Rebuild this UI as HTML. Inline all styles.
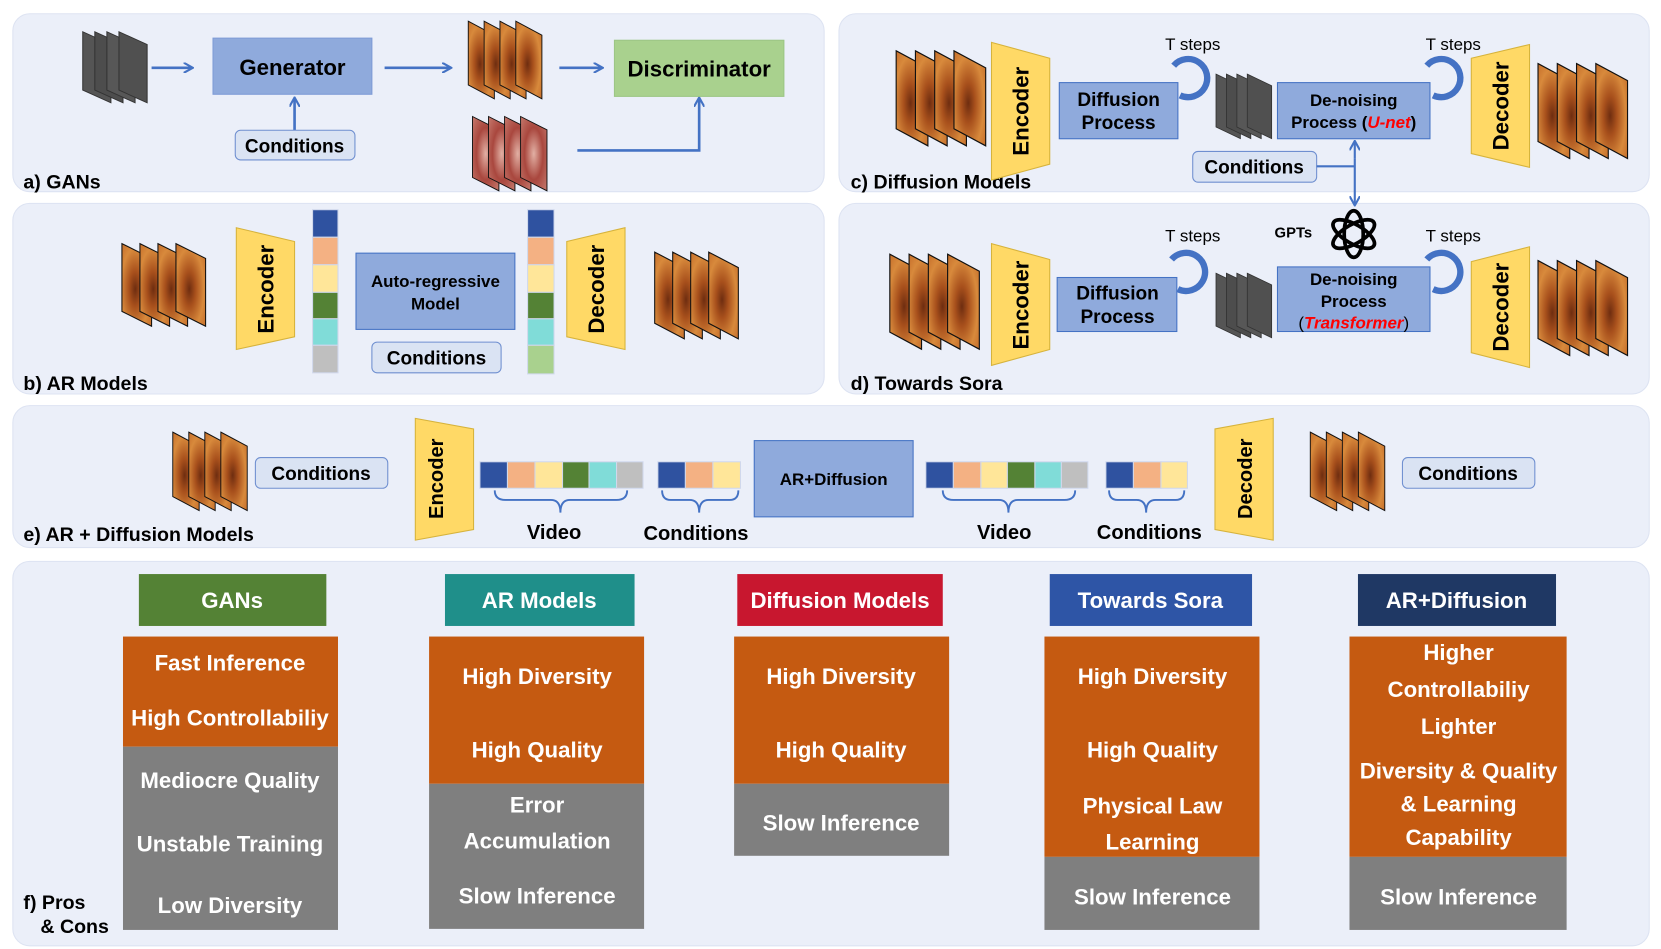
<!DOCTYPE html>
<html><head><meta charset="utf-8"><style>
html,body{margin:0;padding:0;background:#fff;width:1661px;height:949px;overflow:hidden}
svg{display:block}
text{font-family:"Liberation Sans",Arial,sans-serif;font-weight:bold}
</style></head><body>
<svg width="1661" height="949" viewBox="0 0 1568 896" xmlns="http://www.w3.org/2000/svg">
<defs>
<radialGradient id="org" cx="0.45" cy="0.55" r="0.7">
<stop offset="0" stop-color="#6e2d10"/><stop offset="0.3" stop-color="#a8501c"/><stop offset="0.7" stop-color="#d88a3c"/><stop offset="1" stop-color="#c7702c"/></radialGradient>
<radialGradient id="pnk" cx="0.5" cy="0.5" r="0.7">
<stop offset="0" stop-color="#e2b0a4"/><stop offset="0.5" stop-color="#a9473e"/><stop offset="1" stop-color="#c67a6e"/></radialGradient>
<g id="fr"><polygon points="0,0 28,14 28,78 0,64" fill="url(#org)" stroke="#111" stroke-width="1"/><polygon points="17,0 45,14 45,78 17,64" fill="url(#org)" stroke="#111" stroke-width="1"/><polygon points="34,0 62,14 62,78 34,64" fill="url(#org)" stroke="#111" stroke-width="1"/><polygon points="51,0 79,14 79,78 51,64" fill="url(#org)" stroke="#111" stroke-width="1"/></g>
<g id="frp"><polygon points="0,0 28,14 28,78 0,64" fill="url(#pnk)" stroke="#111"/><polygon points="17,0 45,14 45,78 17,64" fill="url(#pnk)" stroke="#111"/><polygon points="34,0 62,14 62,78 34,64" fill="url(#pnk)" stroke="#111"/><polygon points="51,0 79,14 79,78 51,64" fill="url(#pnk)" stroke="#111"/></g>
<g id="nz"><polygon points="0,0 28,14 28,78 0,64" fill="#555" stroke="#333"/><polygon points="12,0 40,14 40,78 12,64" fill="#4d4d4d" stroke="#333"/><polygon points="24,0 52,14 52,78 24,64" fill="#575757" stroke="#333"/><polygon points="36,0 64,14 64,78 36,64" fill="#505050" stroke="#333"/></g>
<marker id="ar" markerWidth="10" markerHeight="10" refX="8" refY="5" orient="auto" markerUnits="userSpaceOnUse"><path d="M0,0 L9,5 L0,10" fill="none" stroke="#4472c4" stroke-width="2"/></marker>
</defs>
<!-- panels -->
<g fill="#ebeff9" stroke="#dde3f2" stroke-width="1">
<rect x="12" y="13" width="766" height="168" rx="16"/>
<rect x="12" y="192" width="766" height="180" rx="16"/>
<rect x="792" y="13" width="765" height="168" rx="16"/>
<rect x="792" y="192" width="765" height="180" rx="16"/>
<rect x="12" y="383" width="1545" height="134" rx="16"/>
<rect x="12" y="530" width="1545" height="363" rx="16"/>
</g>
<g font-size="18.5" fill="#000">
<text x="22" y="178">a) GANs</text><text x="22" y="368">b) AR Models</text>
<text x="803" y="178">c) Diffusion Models</text><text x="803" y="368">d) Towards Sora</text>
<text x="22" y="511">e) AR + Diffusion Models</text>
<text x="22" y="858">f) Pros</text><text x="38" y="881">&amp; Cons</text>
</g>
<!-- a) GANs -->
<use href="#nz" transform="translate(78,30) scale(0.95,0.86)"/>
<use href="#fr" transform="translate(442,20) scale(0.88,0.94)"/>
<use href="#frp" transform="translate(446,110) scale(0.89,0.9)"/>
<g stroke="#4472c4" stroke-width="2.5" fill="none" marker-end="url(#ar)">
<line x1="143" y1="64" x2="181" y2="64"/><line x1="363" y1="64" x2="425" y2="64"/><line x1="528" y1="64" x2="568" y2="64"/>
<line x1="278" y1="123" x2="278" y2="93"/><polyline points="545,142 660,142 660,93"/>
</g>
<rect x="201" y="36" width="150" height="53" fill="#8faadc" stroke="#7e9bd6"/>
<text x="276" y="71" font-size="21" text-anchor="middle">Generator</text>
<rect x="580" y="38" width="160" height="53" fill="#a9d18e" stroke="#9cc685"/>
<text x="660" y="72" font-size="21" text-anchor="middle">Discriminator</text>
<rect x="222" y="123" width="113" height="28" rx="5" fill="#dae3f3" stroke="#6f8fd0"/>
<text x="278" y="144" font-size="18" text-anchor="middle">Conditions</text>
<!-- b) AR -->
<use href="#fr" transform="translate(115,230)"/>
<use href="#fr" transform="translate(618,238) scale(1,1.05)"/>
<polygon points="223,215 278,228 278,318 223,330" fill="#ffd966" stroke="#d6b33c"/>
<text transform="translate(258,273) rotate(-90)" font-size="21" text-anchor="middle">Encoder</text>
<polygon points="535,228 590,215 590,330 535,318" fill="#ffd966" stroke="#d6b33c"/>
<text transform="translate(570,273) rotate(-90)" font-size="21" text-anchor="middle">Decoder</text>
<g stroke="#d0d8ec">
<rect x="295" y="198" width="24" height="26" fill="#2f52a0"/><rect x="295" y="224" width="24" height="26" fill="#f4b183"/><rect x="295" y="250" width="24" height="26" fill="#ffe699"/><rect x="295" y="276" width="24" height="25" fill="#548235"/><rect x="295" y="301" width="24" height="25" fill="#80dcd8"/><rect x="295" y="326" width="24" height="26" fill="#bfbfbf"/>
<rect x="498" y="198" width="25" height="26" fill="#2f52a0"/><rect x="498" y="224" width="25" height="26" fill="#f4b183"/><rect x="498" y="250" width="25" height="26" fill="#ffe699"/><rect x="498" y="276" width="25" height="25" fill="#548235"/><rect x="498" y="301" width="25" height="25" fill="#80dcd8"/><rect x="498" y="326" width="25" height="27" fill="#a9d18e"/>
</g>
<rect x="336" y="239" width="150" height="72" fill="#8faadc" stroke="#4472c4"/>
<text x="411" y="271" font-size="16" text-anchor="middle">Auto-regressive</text>
<text x="411" y="292" font-size="16" text-anchor="middle">Model</text>
<rect x="351" y="323" width="122" height="29" rx="5" fill="#dae3f3" stroke="#6f8fd0"/>
<text x="412" y="344" font-size="18" text-anchor="middle">Conditions</text>
<!-- c) Diffusion -->
<use href="#fr" transform="translate(846,48) scale(1.07,1.15)"/>
<use href="#fr" transform="translate(1452,60) scale(1.07,1.15)"/>
<polygon points="936,40 991,55 991,155 936,170" fill="#ffd966" stroke="#d6b33c"/>
<text transform="translate(971,105) rotate(-90)" font-size="21" text-anchor="middle">Encoder</text>
<polygon points="1389,55 1444,42 1444,158 1389,145" fill="#ffd966" stroke="#d6b33c"/>
<text transform="translate(1424,100) rotate(-90)" font-size="21" text-anchor="middle">Decoder</text>
<use href="#nz" transform="translate(1148,70) scale(0.82,0.78)"/>
<rect x="1000" y="78" width="112" height="53" fill="#8faadc" stroke="#4472c4"/>
<text x="1056" y="100" font-size="18" text-anchor="middle">Diffusion</text><text x="1056" y="122" font-size="18" text-anchor="middle">Process</text>
<rect x="1206" y="78" width="144" height="53" fill="#8faadc" stroke="#4472c4"/>
<text x="1278" y="100" font-size="16" text-anchor="middle">De-noising</text>
<text x="1278" y="121" font-size="16" text-anchor="middle">Process (<tspan fill="#ff0000" font-style="italic">U-net</tspan>)</text>
<g fill="none" stroke="#4472c4" stroke-width="6">
<path d="M1108,62 A18,18 0 1 1 1114,90"/><path d="M1347,62 A18,18 0 1 1 1353,90"/>
<path d="M1106,245 A18,18 0 1 1 1112,273"/><path d="M1347,245 A18,18 0 1 1 1353,273"/>
</g>
<g font-size="16">
<text x="1126" y="47" text-anchor="middle" style="font-weight:normal">T steps</text>
<text x="1372" y="47" text-anchor="middle" style="font-weight:normal">T steps</text>
<text x="1126" y="228" text-anchor="middle" style="font-weight:normal">T steps</text>
<text x="1372" y="228" text-anchor="middle" style="font-weight:normal">T steps</text>
</g>
<rect x="1126" y="143" width="117" height="29" rx="5" fill="#dae3f3" stroke="#6f8fd0"/>
<text x="1184" y="164" font-size="18" text-anchor="middle">Conditions</text>
<g stroke="#4472c4" stroke-width="2" fill="none">
<line x1="1243" y1="157" x2="1279" y2="157"/>
<line x1="1279" y1="150" x2="1279" y2="134" marker-end="url(#ar)"/>
<line x1="1279" y1="150" x2="1279" y2="193" marker-end="url(#ar)"/>
</g>
<!-- d) Sora -->
<use href="#fr" transform="translate(840,240) scale(1.07,1.15)"/>
<use href="#fr" transform="translate(1452,246) scale(1.07,1.15)"/>
<polygon points="936,230 991,245 991,330 936,345" fill="#ffd966" stroke="#d6b33c"/>
<text transform="translate(971,288) rotate(-90)" font-size="21" text-anchor="middle">Encoder</text>
<polygon points="1389,247 1444,233 1444,347 1389,333" fill="#ffd966" stroke="#d6b33c"/>
<text transform="translate(1424,290) rotate(-90)" font-size="21" text-anchor="middle">Decoder</text>
<use href="#nz" transform="translate(1148,258) scale(0.82,0.78)"/>
<rect x="998" y="262" width="113" height="51" fill="#8faadc" stroke="#4472c4"/>
<text x="1055" y="283" font-size="18" text-anchor="middle">Diffusion</text><text x="1055" y="305" font-size="18" text-anchor="middle">Process</text>
<rect x="1206" y="252" width="144" height="61" fill="#8faadc" stroke="#4472c4"/>
<text x="1278" y="269" font-size="16" text-anchor="middle">De-noising</text>
<text x="1278" y="290" font-size="16" text-anchor="middle">Process</text>
<text x="1278" y="310" font-size="16" text-anchor="middle"><tspan style="font-weight:normal">(</tspan><tspan fill="#ff0000" font-style="italic">Transformer</tspan><tspan style="font-weight:normal">)</tspan></text>
<text x="1221" y="224" font-size="14" text-anchor="middle">GPTs</text>
<g fill="none" stroke="#000" stroke-width="3.5">
<ellipse cx="1278" cy="221" rx="9" ry="22"/>
<ellipse cx="1278" cy="221" rx="9" ry="22" transform="rotate(60 1278 221)"/>
<ellipse cx="1278" cy="221" rx="9" ry="22" transform="rotate(-60 1278 221)"/>
</g>
<!-- e) AR + Diffusion -->
<use href="#fr" transform="translate(163,408) scale(0.89,0.95)"/>
<use href="#fr" transform="translate(1237,408) scale(0.89,0.95)"/>
<polygon points="392,395 447,405 447,500 392,510" fill="#ffd966" stroke="#d6b33c"/>
<text transform="translate(418,452) rotate(-90)" font-size="19" text-anchor="middle">Encoder</text>
<polygon points="1147,405 1202,395 1202,510 1147,500" fill="#ffd966" stroke="#d6b33c"/>
<text transform="translate(1182,452) rotate(-90)" font-size="19" text-anchor="middle">Decoder</text>
<rect x="241" y="432" width="125" height="29" rx="5" fill="#dae3f3" stroke="#6f8fd0"/>
<text x="303" y="453" font-size="18" text-anchor="middle">Conditions</text>
<rect x="1324" y="432" width="125" height="29" rx="5" fill="#dae3f3" stroke="#6f8fd0"/>
<text x="1386" y="453" font-size="18" text-anchor="middle">Conditions</text>
<g stroke="#d0d8ec">
<rect x="453" y="436" width="26" height="25" fill="#2f52a0"/><rect x="479" y="436" width="26" height="25" fill="#f4b183"/><rect x="505" y="436" width="26" height="25" fill="#ffe699"/><rect x="531" y="436" width="25" height="25" fill="#548235"/><rect x="556" y="436" width="26" height="25" fill="#80dcd8"/><rect x="582" y="436" width="25" height="25" fill="#bfbfbf"/>
<rect x="621" y="436" width="26" height="25" fill="#2f52a0"/><rect x="647" y="436" width="26" height="25" fill="#f4b183"/><rect x="673" y="436" width="26" height="25" fill="#ffe699"/>
<rect x="874" y="436" width="26" height="25" fill="#2f52a0"/><rect x="900" y="436" width="26" height="25" fill="#f4b183"/><rect x="926" y="436" width="25" height="25" fill="#ffe699"/><rect x="951" y="436" width="26" height="25" fill="#548235"/><rect x="977" y="436" width="25" height="25" fill="#80dcd8"/><rect x="1002" y="436" width="25" height="25" fill="#bfbfbf"/>
<rect x="1044" y="436" width="26" height="25" fill="#2f52a0"/><rect x="1070" y="436" width="26" height="25" fill="#f4b183"/><rect x="1096" y="436" width="25" height="25" fill="#ffe699"/>
</g>
<g fill="none" stroke="#4472c4" stroke-width="1.8">
<path d="M467,463 Q467,472 477,472 L520,472 Q529,472 529,484 Q529,472 538,472 L582,472 Q592,472 592,463"/>
<path d="M625,463 Q625,472 633,472 L651,472 Q660,472 660,484 Q660,472 669,472 L689,472 Q697,472 697,463"/>
<path d="M890,463 Q890,472 900,472 L943,472 Q952,472 952,484 Q952,472 961,472 L1005,472 Q1015,472 1015,463"/>
<path d="M1047,463 Q1047,472 1055,472 L1073,472 Q1082,472 1082,484 Q1082,472 1091,472 L1110,472 Q1118,472 1118,463"/>
</g>
<g font-size="19" text-anchor="middle">
<text x="523" y="509">Video</text><text x="657" y="510">Conditions</text>
<text x="948" y="509">Video</text><text x="1085" y="509">Conditions</text>
</g>
<rect x="712" y="416" width="150" height="72" fill="#8faadc" stroke="#4472c4"/>
<text x="787" y="458" font-size="16" text-anchor="middle">AR+Diffusion</text>
<!-- f) Pros & Cons -->
<rect x="131" y="542" width="177" height="49" fill="#548235"/>
<rect x="420" y="542" width="179" height="49" fill="#1f8f8a"/>
<rect x="696" y="542" width="194" height="49" fill="#c8172f"/>
<rect x="991" y="542" width="191" height="49" fill="#2e55a6"/>
<rect x="1282" y="542" width="187" height="49" fill="#1f3864"/>
<rect x="116" y="601" width="203" height="104" fill="#c55a11"/><rect x="116" y="705" width="203" height="173" fill="#7f7f7f"/>
<rect x="405" y="601" width="203" height="139" fill="#c55a11"/><rect x="405" y="740" width="203" height="137" fill="#7f7f7f"/>
<rect x="693" y="601" width="203" height="139" fill="#c55a11"/><rect x="693" y="740" width="203" height="68" fill="#7f7f7f"/>
<rect x="986" y="601" width="203" height="208" fill="#c55a11"/><rect x="986" y="809" width="203" height="69" fill="#7f7f7f"/>
<rect x="1274" y="601" width="205" height="208" fill="#c55a11"/><rect x="1274" y="809" width="205" height="69" fill="#7f7f7f"/>
<g fill="#fff" font-size="21" text-anchor="middle">
<text x="219" y="574">GANs</text><text x="509" y="574">AR Models</text><text x="793" y="574">Diffusion Models</text><text x="1086" y="574">Towards Sora</text><text x="1375" y="574">AR+Diffusion</text>
<text x="217" y="633">Fast Inference</text><text x="217" y="685">High Controllabiliy</text><text x="217" y="744">Mediocre Quality</text><text x="217" y="804">Unstable Training</text><text x="217" y="862">Low Diversity</text>
<text x="507" y="646">High Diversity</text><text x="507" y="715">High Quality</text><text x="507" y="767">Error</text><text x="507" y="801">Accumulation</text><text x="507" y="853">Slow Inference</text>
<text x="794" y="646">High Diversity</text><text x="794" y="715">High Quality</text><text x="794" y="784">Slow Inference</text>
<text x="1088" y="646">High Diversity</text><text x="1088" y="715">High Quality</text><text x="1088" y="768">Physical Law</text><text x="1088" y="802">Learning</text><text x="1088" y="854">Slow Inference</text>
<text x="1377" y="623">Higher</text><text x="1377" y="658">Controllabiliy</text><text x="1377" y="693">Lighter</text><text x="1377" y="735">Diversity &amp; Quality</text><text x="1377" y="766">&amp; Learning</text><text x="1377" y="798">Capability</text><text x="1377" y="854">Slow Inference</text>
</g>
</svg>
</body></html>
